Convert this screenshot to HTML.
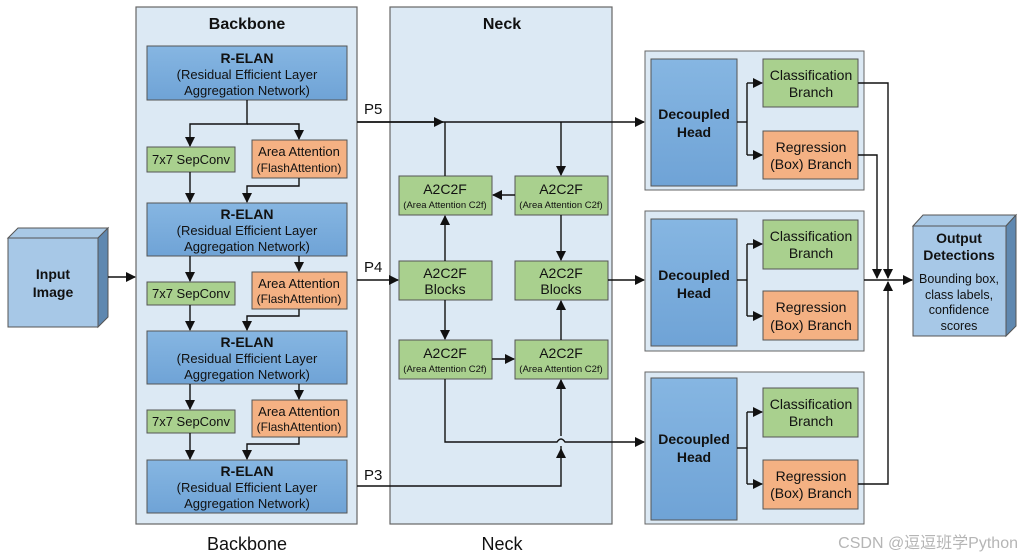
<!DOCTYPE html>
<html><head><meta charset="utf-8"><style>
html,body{margin:0;padding:0;background:#fff;}
svg{display:block;font-family:"Liberation Sans",Arial,sans-serif;}
</style></head><body>
<svg width="1024" height="559" viewBox="0 0 1024 559" xmlns="http://www.w3.org/2000/svg">
<defs>
<marker id="a" markerWidth="10" markerHeight="10" refX="9" refY="5" orient="auto" markerUnits="userSpaceOnUse"><path d="M0,0 L10,5 L0,10 z" fill="#111"/></marker>
<linearGradient id="bl" x1="0" y1="0" x2="0" y2="1"><stop offset="0" stop-color="#86b6e2"/><stop offset="1" stop-color="#6fa3d6"/></linearGradient>
</defs>
<!-- panels -->
<rect x="136" y="7" width="221" height="517" fill="#dce9f4" stroke="#666" stroke-width="1.2"/>
<rect x="390" y="7" width="222" height="517" fill="#dce9f4" stroke="#666" stroke-width="1.2"/>
<text x="247" y="29" font-size="16" font-weight="bold" text-anchor="middle" fill="#111">Backbone</text>
<text x="502" y="29" font-size="16" font-weight="bold" text-anchor="middle" fill="#111">Neck</text>

<!-- input 3D -->
<polygon points="8,238 18,228 108,228 98,238" fill="#a9c9e6" stroke="#555"/>
<polygon points="98,238 108,228 108,317 98,327" fill="#5f88b0" stroke="#555"/>
<rect x="8" y="238" width="90" height="89" fill="#a7c8e7" stroke="#555"/>
<text x="53" y="279" font-size="14" font-weight="bold" text-anchor="middle" fill="#111">Input</text>
<text x="53" y="297" font-size="14" font-weight="bold" text-anchor="middle" fill="#111">Image</text>
<line x1="108" y1="277" x2="135" y2="277" stroke="#111" stroke-width="1.5" marker-end="url(#a)"/>

<!-- backbone boxes -->
<g stroke="#555" stroke-width="1">
<rect x="147" y="46" width="200" height="54" fill="url(#bl)"/>
<rect x="147" y="203" width="200" height="53" fill="url(#bl)"/>
<rect x="147" y="331" width="200" height="53" fill="url(#bl)"/>
<rect x="147" y="460" width="200" height="53" fill="url(#bl)"/>
<rect x="147" y="147" width="88" height="25" fill="#a9d08e"/>
<rect x="147" y="282" width="88" height="23" fill="#a9d08e"/>
<rect x="147" y="410" width="88" height="23" fill="#a9d08e"/>
<rect x="252" y="140" width="95" height="38" fill="#f4b183"/>
<rect x="252" y="272" width="95" height="37" fill="#f4b183"/>
<rect x="252" y="400" width="95" height="37" fill="#f4b183"/>
</g>
<g font-size="13" text-anchor="middle" fill="#111">
<g font-weight="bold" font-size="14"><text x="247" y="63">R-ELAN</text><text x="247" y="219">R-ELAN</text><text x="247" y="347">R-ELAN</text><text x="247" y="476">R-ELAN</text></g>
<text x="247" y="79">(Residual Efficient Layer</text><text x="247" y="95">Aggregation Network)</text>
<text x="247" y="235">(Residual Efficient Layer</text><text x="247" y="251">Aggregation Network)</text>
<text x="247" y="363">(Residual Efficient Layer</text><text x="247" y="379">Aggregation Network)</text>
<text x="247" y="492">(Residual Efficient Layer</text><text x="247" y="508">Aggregation Network)</text>
<text x="191" y="164">7x7 SepConv</text><text x="191" y="298">7x7 SepConv</text><text x="191" y="426">7x7 SepConv</text>
<text x="299" y="156">Area Attention</text><text x="299" y="172" font-size="12">(FlashAttention)</text>
<text x="299" y="288">Area Attention</text><text x="299" y="303" font-size="12">(FlashAttention)</text>
<text x="299" y="416">Area Attention</text><text x="299" y="431" font-size="12">(FlashAttention)</text>
</g>
<g stroke="#111" stroke-width="1.4" fill="none">
<polyline points="247,100 247,124 190,124 190,146" marker-end="url(#a)"/>
<polyline points="247,124 299,124 299,139" marker-end="url(#a)"/>
<line x1="190" y1="172" x2="190" y2="202" marker-end="url(#a)"/>
<polyline points="299,178 299,186 247,186 247,202" marker-end="url(#a)"/>
<line x1="190" y1="256" x2="190" y2="281" marker-end="url(#a)"/>
<line x1="299" y1="256" x2="299" y2="271" marker-end="url(#a)"/>
<line x1="190" y1="305" x2="190" y2="330" marker-end="url(#a)"/>
<polyline points="299,309 299,316 247,316 247,330" marker-end="url(#a)"/>
<line x1="190" y1="384" x2="190" y2="409" marker-end="url(#a)"/>
<line x1="299" y1="384" x2="299" y2="399" marker-end="url(#a)"/>
<line x1="190" y1="433" x2="190" y2="459" marker-end="url(#a)"/>
<polyline points="299,437 299,444 247,444 247,459" marker-end="url(#a)"/>
</g>

<!-- neck boxes -->
<g stroke="#555" fill="#a9d08e">
<rect x="399" y="176" width="93" height="39"/><rect x="515" y="176" width="93" height="39"/>
<rect x="399" y="261" width="93" height="39"/><rect x="515" y="261" width="93" height="39"/>
<rect x="399" y="340" width="93" height="39"/><rect x="515" y="340" width="93" height="39"/>
</g>
<g text-anchor="middle" fill="#111">
<g font-size="14"><text x="445" y="194">A2C2F</text><text x="561" y="194">A2C2F</text><text x="445" y="278">A2C2F</text><text x="561" y="278">A2C2F</text><text x="445" y="358">A2C2F</text><text x="561" y="358">A2C2F</text>
<text x="445" y="294">Blocks</text><text x="561" y="294">Blocks</text></g>
<g font-size="9.5"><text x="445" y="208">(Area Attention C2f)</text><text x="561" y="208">(Area Attention C2f)</text><text x="445" y="372">(Area Attention C2f)</text><text x="561" y="372">(Area Attention C2f)</text></g>
</g>
<g font-size="15" fill="#111"><text x="364" y="114">P5</text><text x="364" y="272">P4</text><text x="364" y="480">P3</text></g>
<g stroke="#111" stroke-width="1.4" fill="none">
<line x1="357" y1="122" x2="644" y2="122" marker-end="url(#a)"/>
<line x1="357" y1="122" x2="443" y2="122" marker-end="url(#a)"/>
<line x1="445" y1="176" x2="445" y2="122"/>
<line x1="561" y1="122" x2="561" y2="175" marker-end="url(#a)"/>
<line x1="515" y1="195" x2="493" y2="195" marker-end="url(#a)"/>
<line x1="561" y1="215" x2="561" y2="260" marker-end="url(#a)"/>
<line x1="445" y1="261" x2="445" y2="216" marker-end="url(#a)"/>
<line x1="357" y1="280" x2="398" y2="280" marker-end="url(#a)"/>
<line x1="608" y1="280" x2="644" y2="280" marker-end="url(#a)"/>
<line x1="445" y1="300" x2="445" y2="339" marker-end="url(#a)"/>
<line x1="492" y1="359" x2="514" y2="359" marker-end="url(#a)"/>
<line x1="561" y1="340" x2="561" y2="301" marker-end="url(#a)"/>
<polyline points="357,486 561,486 561,446"/>
<line x1="561" y1="436" x2="561" y2="380" marker-end="url(#a)"/>
<path d="M445,379 L445,442 L557,442 Q561,436 565,442 L644,442" marker-end="url(#a)"/>
<line x1="561" y1="458" x2="561" y2="449" marker-end="url(#a)"/>
</g>

<!-- heads -->
<g stroke="#666" fill="#dce9f4"><rect x="645" y="51" width="219" height="139"/><rect x="645" y="211" width="219" height="140"/><rect x="645" y="372" width="219" height="152"/></g>
<g stroke="#555">
<rect x="651" y="59" width="86" height="127" fill="url(#bl)"/><rect x="651" y="219" width="86" height="127" fill="url(#bl)"/><rect x="651" y="378" width="86" height="142" fill="url(#bl)"/>
<rect x="763" y="59" width="95" height="48" fill="#a9d08e"/><rect x="763" y="131" width="95" height="48" fill="#f4b183"/>
<rect x="763" y="220" width="95" height="49" fill="#a9d08e"/><rect x="763" y="291" width="95" height="49" fill="#f4b183"/>
<rect x="763" y="388" width="95" height="49" fill="#a9d08e"/><rect x="763" y="460" width="95" height="49" fill="#f4b183"/>
</g>
<g text-anchor="middle" fill="#111">
<g font-size="14" font-weight="bold"><text x="694" y="119">Decoupled</text><text x="694" y="137">Head</text><text x="694" y="280">Decoupled</text><text x="694" y="298">Head</text><text x="694" y="444">Decoupled</text><text x="694" y="462">Head</text></g>
<g font-size="14"><text x="811" y="80">Classification</text><text x="811" y="97">Branch</text><text x="811" y="152">Regression</text><text x="811" y="169">(Box) Branch</text>
<text x="811" y="241">Classification</text><text x="811" y="258">Branch</text><text x="811" y="312">Regression</text><text x="811" y="330">(Box) Branch</text>
<text x="811" y="409">Classification</text><text x="811" y="426">Branch</text><text x="811" y="481">Regression</text><text x="811" y="498">(Box) Branch</text></g>
</g>
<g stroke="#111" stroke-width="1.4" fill="none">
<polyline points="737,122 747,122"/><polyline points="747,83 747,155"/><line x1="747" y1="83" x2="762" y2="83" marker-end="url(#a)"/><line x1="747" y1="155" x2="762" y2="155" marker-end="url(#a)"/>
<polyline points="737,280 747,280"/><polyline points="747,244 747,316"/><line x1="747" y1="244" x2="762" y2="244" marker-end="url(#a)"/><line x1="747" y1="316" x2="762" y2="316" marker-end="url(#a)"/>
<polyline points="737,448 747,448"/><polyline points="747,412 747,484"/><line x1="747" y1="412" x2="762" y2="412" marker-end="url(#a)"/><line x1="747" y1="484" x2="762" y2="484" marker-end="url(#a)"/>
<polyline points="858,83 888,83 888,278" marker-end="url(#a)"/>
<polyline points="858,155 877,155 877,278" marker-end="url(#a)"/>
<polyline points="858,484 888,484 888,282" marker-end="url(#a)"/>
<line x1="864" y1="280" x2="912" y2="280" marker-end="url(#a)"/>
</g>
<!-- output 3D -->
<polygon points="913,226 923,215 1016,215 1006,226" fill="#a9c9e6" stroke="#555"/>
<polygon points="1006,226 1016,215 1016,326 1006,336" fill="#5f88b0" stroke="#555"/>
<rect x="913" y="226" width="93" height="110" fill="#a7c8e7" stroke="#555"/>
<g text-anchor="middle" fill="#111">
<text x="959" y="243" font-size="14" font-weight="bold">Output</text><text x="959" y="260" font-size="14" font-weight="bold">Detections</text>
<g font-size="12.5"><text x="959" y="283">Bounding box,</text><text x="959" y="299">class labels,</text><text x="959" y="314">confidence</text><text x="959" y="330">scores</text></g>
</g>
<g font-size="18" text-anchor="middle" fill="#111"><text x="247" y="550">Backbone</text><text x="502" y="550">Neck</text></g>
<text x="1018" y="548" font-size="16" text-anchor="end" fill="#b5b5b5" font-family="Liberation Sans,Noto Sans CJK SC,sans-serif">CSDN @逗逗班学Python</text>
</svg>
</body></html>
